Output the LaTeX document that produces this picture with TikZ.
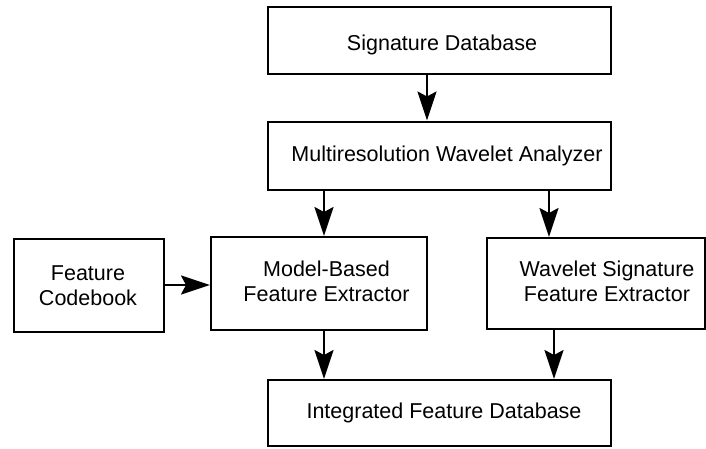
\documentclass[tikz,border=0pt]{standalone}
\usepackage{fontspec}
\setmainfont{Liberation Sans}
\usetikzlibrary{arrows.meta}
\begin{document}
\begin{tikzpicture}[x=1pt,y=-1pt,
  box/.style={draw, line width=2pt, rectangle, inner sep=0pt},
  lbl/.style={font=\fontsize{21.5}{25}\selectfont, align=center, inner sep=0pt, anchor=base},
  arr/.style={line width=2.4pt, -{Stealth[length=29pt,width=19pt,inset=5pt]}}]
\useasboundingbox (0,0) rectangle (706,448);
% boxes
\node[box, minimum width=343pt, minimum height=67pt] (sd) at (439,40.5) {};
\node[lbl] (sdt) at (442,50) {Signature Database};
\node[box, minimum width=343.5pt, minimum height=68.5pt] (mwa) at (439.25,155.75) {};
\node[lbl] (mwat) at (447,161.7) {Multiresolution Wavelet Analyzer};
\node[box, minimum width=149.5pt, minimum height=93pt] (fc) at (88.75,285) {};
\node[lbl] (fct) at (88,305) {Feature\\Codebook};
\node[box, minimum width=216pt, minimum height=92.5pt] (mbfe) at (319,283.25) {};
\node[lbl] (mbfet) at (326.5,301.7) {Model-Based\\Feature Extractor};
\node[box, minimum width=218pt, minimum height=91pt] (wsfe) at (596,283.5) {};
\node[lbl] (wsfet) at (607,301.7) {Wavelet Signature\\Feature Extractor};
\node[box, minimum width=343pt, minimum height=66pt] (ifd) at (439.5,413) {};
\node[lbl] (ifdt) at (444,418.3) {Integrated Feature Database};
% connector guides
\coordinate (xa) at (427,0);
\coordinate (xb) at (324,0);
\coordinate (xc) at (549,0);
\coordinate (xd) at (554,0);
\coordinate (ya) at (0,285);
% connectors
\draw[arr] (sd.south -| xa) -- (mwa.north -| xa);
\draw[arr] (mwa.south -| xb) -- (mbfe.north -| xb);
\draw[arr] (mwa.south -| xc) -- (wsfe.north -| xc);
\draw[arr] (fc.east |- ya) -- (mbfe.west |- ya);
\draw[arr] (mbfe.south -| xb) -- (ifd.north -| xb);
\draw[arr] (wsfe.south -| xd) -- (ifd.north -| xd);
\end{tikzpicture}
\end{document}
